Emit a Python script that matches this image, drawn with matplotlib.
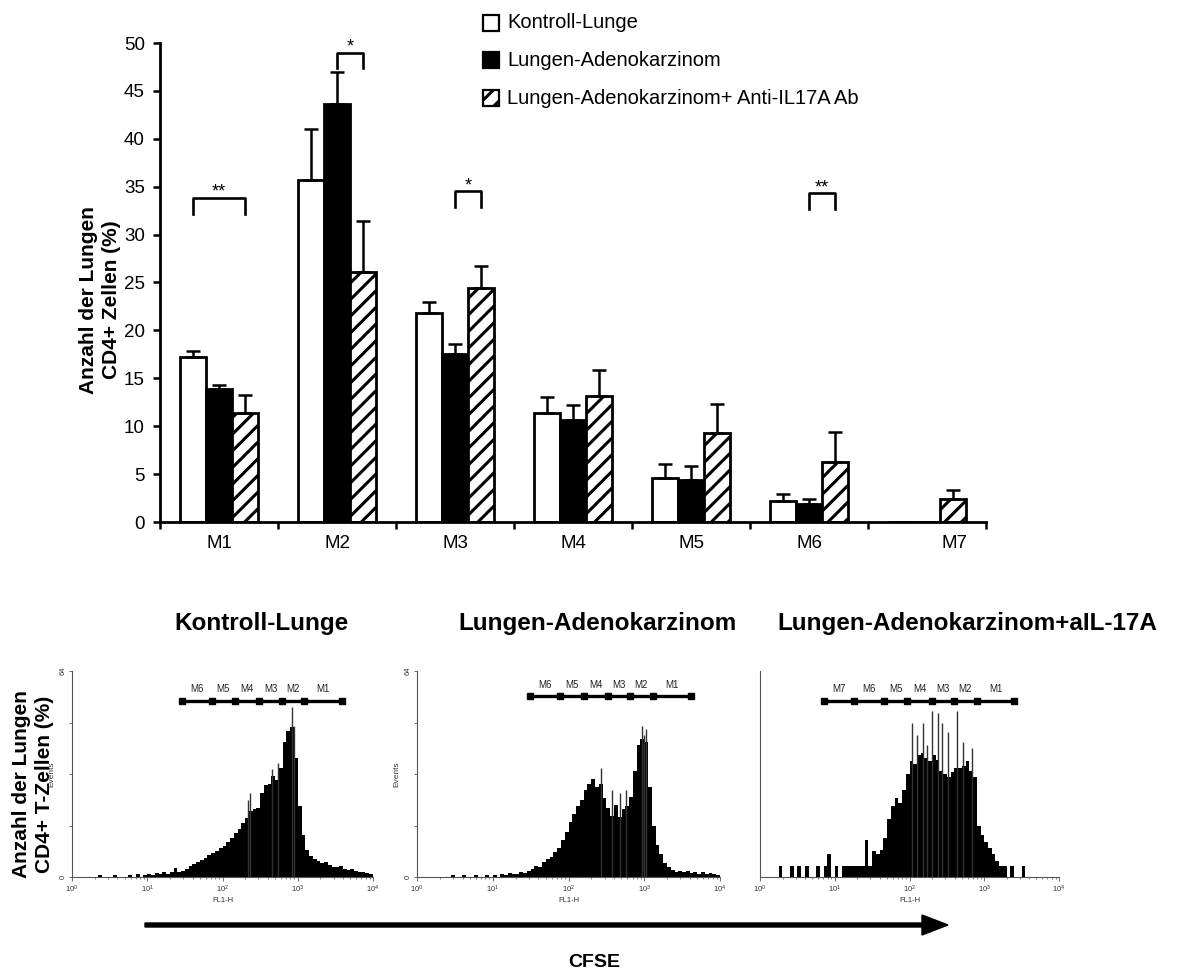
import numpy as np
import matplotlib
matplotlib.use("Agg")
import matplotlib.pyplot as plt
from matplotlib.patches import Rectangle, FancyArrow
from matplotlib.ticker import FixedLocator, NullFormatter, LogLocator

plt.rcParams['font.family'] = ['Liberation Sans', 'DejaVu Sans']
plt.rcParams['mathtext.default'] = 'regular'
plt.rcParams['hatch.linewidth'] = 2.2

# ---------------- bar chart data (% of lung CD4+ cells per division gate) ----------------
groups = ['M1', 'M2', 'M3', 'M4', 'M5', 'M6', 'M7']
series_labels = ['Kontroll-Lunge', 'Lungen-Adenokarzinom',
                 'Lungen-Adenokarzinom+ Anti-IL17A Ab']
kontroll = [17.2, 35.7, 21.8, 11.4, 4.6, 2.2, 0.0]
kontroll_err = [0.7, 5.3, 1.2, 1.6, 1.5, 0.7, 0.0]
adeno = [13.9, 43.6, 17.5, 10.6, 4.4, 1.9, 0.0]
adeno_err = [0.4, 3.4, 1.1, 1.6, 1.4, 0.5, 0.0]
anti = [11.4, 26.1, 24.4, 13.2, 9.3, 6.3, 2.4]
anti_err = [1.9, 5.3, 2.3, 2.7, 3.0, 3.1, 0.9]

# significance brackets: group, first series, second series, bracket height, label
sig_group = [0, 1, 2, 5]
sig_from = [0, 1, 1, 1]
sig_to = [2, 2, 2, 2]
sig_height = [33.8, 49.0, 34.5, 34.3]
sig_text = ['**', '*', '*', '**']

# ---------------- CFSE histograms (events per log bin, 10^0 .. 10^4) ----------------
hist_kontroll = [
    0, 0, 0, 0, 0, 0, 0, 0.6, 0, 0, 0, 0.5, 0, 0, 0, 0.7, 0, 0.9, 0, 0.6,
    1.0, 0.6, 1.2, 0.8, 1.4, 1.0, 1.5, 2.8, 1.6, 2.0,
    2.6, 3.4, 4.0, 4.6, 5.4, 6.0, 6.8, 7.6, 8.2, 9.0,
    9.6, 10.8, 12.0, 13.6, 15.0, 16.8, 18.2, 20.5, 21.0, 21.5,
    26.0, 28.5, 29.0, 31.5, 30.0, 34.0, 42.0, 45.5, 46.5, 37.0,
    22.0, 13.0, 8.5, 6.5, 5.5, 5.0, 4.2, 4.8, 3.6, 3.2,
    3.0, 3.4, 2.6, 2.2, 2.5, 1.8, 1.6, 1.5, 1.2, 0.8]
hist_adeno = [
    0, 0, 0, 0, 0, 0, 0, 0, 0, 0.6, 0, 0, 0.5, 0, 0, 0.7, 0, 0, 0.6, 0,
    0.6, 0, 0.8, 0.5, 1.2, 0.8, 1.0, 1.6, 1.2, 1.8,
    2.4, 3.4, 3.0, 4.6, 5.5, 6.2, 7.8, 9.0, 11.5, 14.0,
    17.0, 19.5, 22.0, 24.0, 27.0, 29.0, 30.5, 28.0, 29.0, 24.5,
    21.5, 19.0, 22.5, 18.5, 21.0, 22.0, 25.0, 33.0, 41.0, 43.0,
    42.0, 28.0, 16.0, 10.0, 7.0, 4.5, 3.0, 2.2, 1.6, 2.0,
    1.5, 1.8, 1.2, 1.6, 1.0, 1.4, 0.9, 1.2, 0.8, 0.6]
hist_anti = [
    0, 0, 0, 0, 0, 3.5, 0, 0, 3.5, 0, 3.5, 0, 3.5, 0, 0, 3.5, 0, 3.5, 7.0, 0,
    3.5, 0, 3.5, 3.5, 3.5, 3.5, 3.5, 3.5, 11.5, 3.5,
    8.0, 7.0, 8.5, 12.0, 18.0, 22.0, 24.5, 23.0, 27.0, 32.0,
    36.0, 35.0, 38.0, 38.5, 37.0, 36.0, 38.0, 36.5, 33.0, 32.0,
    31.0, 32.5, 34.0, 34.0, 34.5, 36.0, 33.0, 31.0, 16.0, 13.0,
    11.0, 9.0, 7.0, 5.0, 3.5, 3.5, 0, 3.5, 0, 0,
    3.5, 0, 0, 0, 0, 0, 0, 0, 0, 0]

# single tall channels standing out of each histogram (FL1-H, events)
spike_kontroll_x = [831.8, 549.5, 234.4, 218.8, 457.0, 900.0]
spike_kontroll_y = [52.9, 35.5, 26.0, 24.0, 33.5, 47.0]
spike_adeno_x = [933.0, 1047.0, 269.2, 371.5, 478.6, 575.4, 1000.0]
spike_adeno_y = [47.0, 46.0, 34.0, 27.0, 26.0, 27.0, 44.0]
spike_anti_x = [109.6, 151.4, 173.8, 199.5, 239.9, 269.2, 436.5, 125.9, 331.1, 524.8, 691.8]
spike_anti_y = [47.8, 47.8, 41.0, 51.6, 51.0, 47.8, 51.6, 44.0, 45.0, 42.0, 40.0]

# marker gate boundaries (FL1-H)
gates_kontroll = [28.7, 71.9, 146.6, 308.0, 612.0, 1222.0, 3908.0]
gates_adeno = [30.9, 77.6, 158.5, 331.0, 646.0, 1288.0, 4169.0]
gates_anti = [7.18, 18.1, 45.5, 93.3, 199.5, 389.0, 794.0, 2512.0]
gate_names_6 = ['M6', 'M5', 'M4', 'M3', 'M2', 'M1']
gate_names_7 = ['M7', 'M6', 'M5', 'M4', 'M3', 'M2', 'M1']

W, H = 1186, 972
fig = plt.figure(figsize=(W / 100, H / 100), dpi=100)


def px_axes(left, top, right, bottom):
    return fig.add_axes([left / W, 1 - bottom / H, (right - left) / W, (bottom - top) / H])


# ---------------- grouped bar chart ----------------
ax = px_axes(160, 43, 986, 522)
x = np.arange(len(groups))
bw = 0.222
offsets = [-bw, 0.0, bw]
values = [kontroll, adeno, anti]
errors = [kontroll_err, adeno_err, anti_err]
faces = ['white', 'black', 'white']
hatches = [None, None, '//']
for k in range(3):
    ax.bar(x + offsets[k], values[k], bw, color=faces[k], edgecolor='black',
           linewidth=2.0, hatch=hatches[k], zorder=2)
    v = np.array(values[k])
    e = np.array(errors[k])
    m = e > 0
    ax.errorbar((x + offsets[k])[m], v[m], yerr=[np.zeros(m.sum()), e[m]], fmt='none',
                ecolor='black', elinewidth=1.8, capsize=5, capthick=1.8, zorder=3)

for g, a, b, h, t in zip(sig_group, sig_from, sig_to, sig_height, sig_text):
    xa, xb = g + offsets[a], g + offsets[b]
    ax.plot([xa, xa, xb, xb], [h - 1.6, h, h, h - 1.6], color='black', lw=1.9,
            clip_on=False, zorder=4)
    ax.text((xa + xb) / 2, h + 0.6, t, ha='center', va='center', fontsize=13,
            clip_on=False)

ax.set_xlim(-0.5, 6.5)
ax.set_ylim(0, 50)
ax.set_yticks(np.arange(0, 51, 5))
ax.set_xticks(np.arange(-0.5, 7, 1.0))
label_pos = x.astype(float)
label_pos[-1] += 0.23
ax.set_xticks(label_pos, minor=True)
ax.set_xticklabels(groups, minor=True)
ax.tick_params(axis='y', direction='out', length=5, width=1.8, labelsize=13.5, pad=6)
ax.tick_params(axis='x', which='major', direction='out', length=5, width=1.8,
               labelbottom=False)
ax.tick_params(axis='x', which='minor', length=0, labelsize=13.5, pad=9)
for s in ['top', 'right']:
    ax.spines[s].set_visible(False)
for s in ['left', 'bottom']:
    ax.spines[s].set_linewidth(2.0)

# ---------------- CFSE histograms ----------------
edges = np.logspace(0, 4, len(hist_kontroll) + 1)


def draw_hist(axh, counts, sx, sy, gates, names, gate_y, with_y):
    axh.stairs(counts, edges, fill=True, color='black', lw=0)
    axh.vlines(sx, 0, sy, color='#333333', lw=1.0)
    axh.set_xscale('log')
    axh.set_xlim(1, 1e4)
    axh.set_ylim(0, 64)
    axh.xaxis.set_major_locator(FixedLocator([1, 10, 100, 1000, 10000]))
    axh.set_xticklabels([r'$10^0$', r'$10^1$', r'$10^2$', r'$10^3$', r'$10^4$'])
    axh.xaxis.set_minor_locator(LogLocator(base=10, subs=np.arange(2, 10)))
    axh.xaxis.set_minor_formatter(NullFormatter())
    axh.tick_params(axis='x', which='major', length=3, width=0.6, colors='#555555',
                    labelsize=5.5, labelcolor='#333333', pad=1.5)
    axh.tick_params(axis='x', which='minor', length=1.5, width=0.5, colors='#555555')
    axh.set_xlabel('FL1-H', fontsize=5.5, labelpad=1.5, color='#333333')
    for s in ['top', 'right']:
        axh.spines[s].set_visible(False)
    for s in ['left', 'bottom']:
        axh.spines[s].set_color('#555555')
        axh.spines[s].set_linewidth(0.8)
    if with_y:
        axh.set_yticks([0, 16, 32, 48, 64])
        axh.set_yticklabels(['0', '', '', '', '64'], rotation=90, va='center')
        axh.tick_params(axis='y', length=2.5, width=0.6, colors='#555555',
                        labelsize=5.5, labelcolor='#333333', pad=1.5)
        axh.set_ylabel('Events', fontsize=6, labelpad=3, color='#333333')
    else:
        axh.set_yticks([])
    axh.plot(gates, [gate_y] * len(gates), color='black', lw=2.4, marker='s', ms=4,
             clip_on=False, zorder=5)
    for i, name in enumerate(names):
        xc = np.sqrt(gates[i] * gates[i + 1])
        axh.text(xc, gate_y + 3.6, name, ha='center', va='center', fontsize=7,
                 color='#222222', clip_on=False)


h1 = px_axes(72, 671, 373, 877)
draw_hist(h1, hist_kontroll, spike_kontroll_x, spike_kontroll_y,
          gates_kontroll, gate_names_6, 54.8, True)
h2 = px_axes(417, 671, 720, 877)
draw_hist(h2, hist_adeno, spike_adeno_x, spike_adeno_y,
          gates_adeno, gate_names_6, 56.2, True)
h3 = px_axes(760, 671, 1059, 877)
draw_hist(h3, hist_anti, spike_anti_x, spike_anti_y,
          gates_anti, gate_names_7, 54.8, False)

# ---------------- labels, legend and CFSE arrow on a full-figure layer ----------------
ov = fig.add_axes([0, 0, 1, 1])
ov.set_xlim(0, W)
ov.set_ylim(H, 0)
ov.axis('off')

legend_y = [23, 60, 98]
for lab, fc, ht, yy in zip(series_labels, faces, hatches, legend_y):
    ov.add_patch(Rectangle((483, yy - 8), 16, 16, facecolor=fc, edgecolor='black',
                           lw=1.6, hatch=ht))
    ov.text(507, yy, lab, ha='left', va='center', fontsize=14.5)

ov.text(100, 300, 'Anzahl der Lungen\nCD4+ Zellen (%)', rotation=90, ha='center',
        va='center', fontsize=15, fontweight='bold', linespacing=1.25)
ov.text(33, 784, 'Anzahl der Lungen\nCD4+ T-Zellen (%)', rotation=90, ha='center',
        va='center', fontsize=15, fontweight='bold', linespacing=1.25)

for title, xc in zip(['Kontroll-Lunge', 'Lungen-Adenokarzinom',
                      'Lungen-Adenokarzinom+aIL-17A'], [261, 597, 967]):
    ov.text(xc, 623, title, ha='center', va='center', fontsize=17.5, fontweight='bold')

ov.add_patch(FancyArrow(145, 925, 803, 0, width=4, head_width=20, head_length=26,
                        length_includes_head=True, color='black'))
ov.text(594, 962, 'CFSE', ha='center', va='center', fontsize=14, fontweight='bold')

fig.savefig('out.png', dpi=100)
